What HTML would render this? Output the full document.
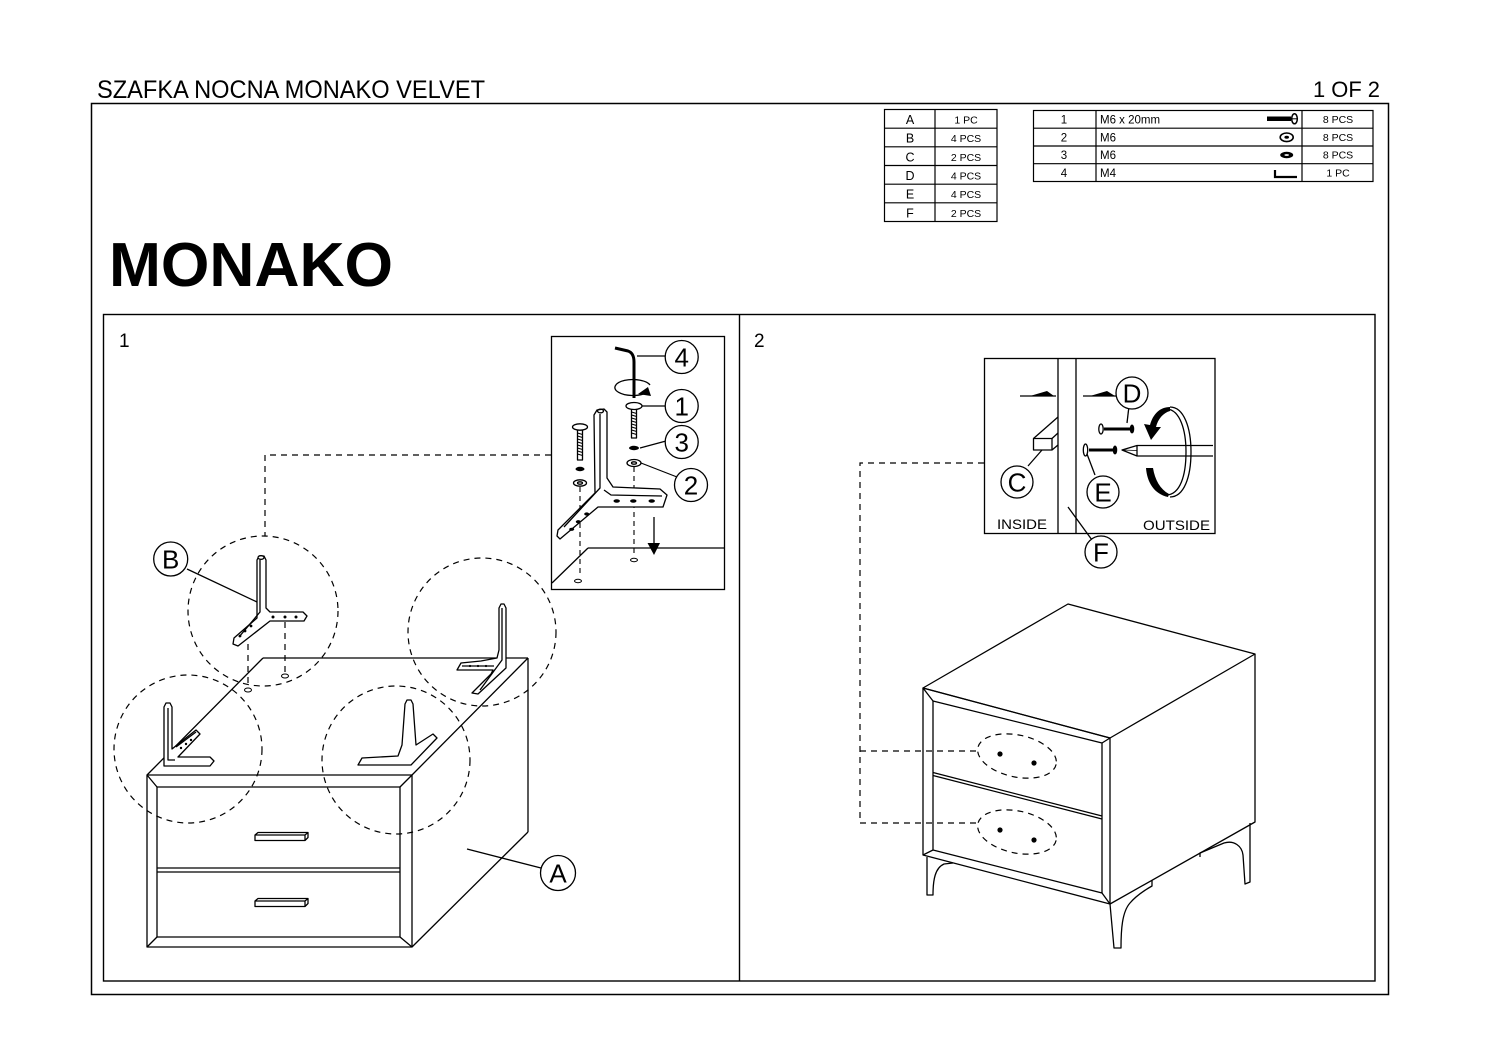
<!DOCTYPE html>
<html><head><meta charset="utf-8">
<style>html,body{margin:0;padding:0;background:#fff}svg{display:block}</style>
</head>
<body>
<svg width="1500" height="1060" viewBox="0 0 1500 1060" xmlns="http://www.w3.org/2000/svg" font-family="'Liberation Sans', Arial, sans-serif">
<rect width="1500" height="1060" fill="#fff"/>

<!-- Header -->
<text x="97" y="98" font-size="25" textLength="388" lengthAdjust="spacingAndGlyphs">SZAFKA NOCNA MONAKO VELVET</text>
<text x="1313" y="97" font-size="22" textLength="67" lengthAdjust="spacingAndGlyphs">1 OF 2</text>
<rect x="91.5" y="103.5" width="1297" height="891" fill="none" stroke="#000" stroke-width="1.5"/>
<text x="109" y="286" font-size="62" font-weight="bold" textLength="284" lengthAdjust="spacingAndGlyphs">MONAKO</text>

<!-- Table 1 -->
<g stroke="#000" stroke-width="1.2" fill="none">
  <rect x="884.5" y="109.5" width="112.5" height="112"/>
  <line x1="935" y1="109.5" x2="935" y2="221.5"/>
  <line x1="884.5" y1="128.2" x2="997" y2="128.2"/>
  <line x1="884.5" y1="146.8" x2="997" y2="146.8"/>
  <line x1="884.5" y1="165.5" x2="997" y2="165.5"/>
  <line x1="884.5" y1="184.2" x2="997" y2="184.2"/>
  <line x1="884.5" y1="202.8" x2="997" y2="202.8"/>
</g>
<g font-size="12.5" text-anchor="middle">
  <text x="910" y="124">A</text>
  <text x="910" y="142.7">B</text>
  <text x="910" y="161.4">C</text>
  <text x="910" y="180">D</text>
  <text x="910" y="198.7">E</text>
  <text x="910" y="217.4">F</text>
</g>
<g font-size="10.5" text-anchor="middle">
  <text x="966" y="123.5">1 PC</text>
  <text x="966" y="142.2">4 PCS</text>
  <text x="966" y="160.9">2 PCS</text>
  <text x="966" y="179.5">4 PCS</text>
  <text x="966" y="198.2">4 PCS</text>
  <text x="966" y="216.9">2 PCS</text>
</g>

<!-- Table 2 -->
<g stroke="#000" stroke-width="1.2" fill="none">
  <rect x="1033.5" y="110.5" width="339.5" height="71"/>
  <line x1="1096" y1="110.5" x2="1096" y2="181.5"/>
  <line x1="1302" y1="110.5" x2="1302" y2="181.5"/>
  <line x1="1033.5" y1="128.2" x2="1373" y2="128.2"/>
  <line x1="1033.5" y1="146" x2="1373" y2="146"/>
  <line x1="1033.5" y1="163.7" x2="1373" y2="163.7"/>
</g>
<g font-size="11.5">
  <text x="1064" y="123.5" text-anchor="middle">1</text>
  <text x="1064" y="141.3" text-anchor="middle">2</text>
  <text x="1064" y="159" text-anchor="middle">3</text>
  <text x="1064" y="176.8" text-anchor="middle">4</text>
  <text x="1100" y="123.5">M6 x 20mm</text>
  <text x="1100" y="141.3">M6</text>
  <text x="1100" y="159">M6</text>
  <text x="1100" y="176.8">M4</text>
</g>
<g font-size="10.5" text-anchor="middle">
  <text x="1338" y="123.2">8 PCS</text>
  <text x="1338" y="141">8 PCS</text>
  <text x="1338" y="158.7">8 PCS</text>
  <text x="1338" y="176.5">1 PC</text>
</g>
<!-- table icons -->
<rect x="1267" y="116.5" width="24" height="4.5" fill="#000"/>
<ellipse cx="1294.5" cy="118.8" rx="2.8" ry="5" fill="#fff" stroke="#000" stroke-width="1.5"/>
<line x1="1291" y1="118.8" x2="1297" y2="118.8" stroke="#000" stroke-width="1"/>
<ellipse cx="1286.7" cy="137.3" rx="6.5" ry="4.3" fill="none" stroke="#000" stroke-width="1.6"/>
<ellipse cx="1286.7" cy="137.3" rx="2.3" ry="1.5" fill="#000"/>
<ellipse cx="1286.7" cy="155" rx="6.5" ry="3.2" fill="#000"/>
<ellipse cx="1286.7" cy="155" rx="2.3" ry="0.9" fill="#fff"/>
<path d="M1275,170 L1275,177 L1297,177" fill="none" stroke="#000" stroke-width="2.2"/>

<!-- Panels frame -->
<rect x="103.5" y="314.5" width="1271.5" height="666.5" fill="none" stroke="#000" stroke-width="1.4"/>
<line x1="739.5" y1="314.5" x2="739.5" y2="981" stroke="#000" stroke-width="1.4"/>
<text x="119" y="347" font-size="19">1</text>
<text x="754" y="347" font-size="19">2</text>

<!-- ================= PANEL 1 ================= -->
<g stroke="#000" stroke-width="1.3" fill="none" stroke-linejoin="round">
  <!-- cabinet -->
  <line x1="263" y1="658" x2="528" y2="658"/>
  <line x1="263" y1="658" x2="147" y2="775"/>
  <line x1="528" y1="658" x2="412" y2="775"/>
  <line x1="528" y1="658" x2="528" y2="832"/>
  <line x1="528" y1="832" x2="412" y2="947"/>
  <rect x="147" y="775" width="265" height="172"/>
  <rect x="157" y="787" width="243" height="150"/>
  <line x1="147" y1="775" x2="157" y2="787"/>
  <line x1="412" y1="775" x2="400" y2="787"/>
  <line x1="147" y1="947" x2="157" y2="937"/>
  <line x1="412" y1="947" x2="400" y2="937"/>
  <line x1="157" y1="868" x2="400" y2="868"/>
  <line x1="157" y1="872" x2="400" y2="872"/>
  <!-- handles -->
  <path d="M255,835 L305,835 L305,840.5 L255,840.5 Z M255,835 L258,832.5 L308,832.5 L305,835 M308,832.5 L308,837.5 L305,840.5" fill="#fff"/>
  <path d="M255,901 L305,901 L305,906.5 L255,906.5 Z M255,901 L258,898.5 L308,898.5 L305,901 M308,898.5 L308,903.5 L305,906.5" fill="#fff"/>
  <!-- A label -->
  <line x1="467" y1="849" x2="541" y2="868"/>
  <circle cx="558" cy="873" r="17.5" fill="#fff"/>
</g>
<text x="558" y="882.5" font-size="26" text-anchor="middle">A</text>

<!-- dashed circles -->
<g stroke="#000" stroke-width="1.2" fill="none" stroke-dasharray="6 5">
  <circle cx="263" cy="611" r="75"/>
  <circle cx="188" cy="749" r="74"/>
  <circle cx="482" cy="632" r="74"/>
  <circle cx="396" cy="760" r="74"/>
  <polyline points="551,455 265,455 265,536"/>
  <line x1="248" y1="644" x2="248" y2="687"/>
  <line x1="285" y1="622" x2="285" y2="673"/>
</g>
<g stroke="#000" stroke-width="1" fill="none">
  <ellipse cx="248" cy="690" rx="3.5" ry="2"/>
  <ellipse cx="285" cy="676" rx="3.5" ry="2"/>
</g>

<!-- brackets on cabinet -->
<g stroke="#000" stroke-width="1.3" fill="#fff" stroke-linejoin="round">
  <!-- B bracket (floating) -->
  <path d="M257,560 L259,556 L264,556 L266,560 L266,608 L270,612 L303,612 L307,616 L304,621 L270,621 L238,646 L233,644 L234,638 L257,618 Z"/>
  <path d="M260,560 L260,612 L239,637" fill="none"/>
  <ellipse cx="261" cy="557.5" rx="3" ry="1.8"/>
  <!-- lower-left bracket -->
  <path d="M164,707 L166,703 L170,703 L172,707 L172,749 L196,730 L200,734 L178,757 L210,757 L214,761 L210,766 L164,766 Z"/>
  <path d="M168,708 L168,760 L175,760" fill="none"/>
  <path d="M176,747 L196,732" fill="none"/>
  <!-- top-right bracket -->
  <path d="M499,608 L501,604 L504,604 L506,608 L506,668 L478,694 L472,693 L491,674 L493,670 L457,670 L461,663 L481,661 L497,658 L499,650 Z"/>
  <path d="M502,608 L502,660 L480,690" fill="none"/>
  <line x1="462" y1="666" x2="494" y2="666"/>
  <!-- bottom-middle bracket -->
  <path d="M405,704 L407,700 L411,700 L413,704 L416,745 L433,734 L437,738 L411,765 L358,765 L362,758 L398,756 L402,745 Z"/>
</g>
<g fill="#000">
  <circle cx="273" cy="617" r="1.5"/><circle cx="285" cy="617" r="1.5"/><circle cx="296" cy="617" r="1.5"/>
  <circle cx="251" cy="626" r="1.4"/><circle cx="245" cy="631" r="1.4"/><circle cx="240" cy="636" r="1.4"/>
  <circle cx="181" cy="748" r="1.2"/><circle cx="186" cy="744" r="1.2"/><circle cx="191" cy="740" r="1.2"/>
  <circle cx="470" cy="666" r="1.1"/><circle cx="478" cy="666" r="1.1"/><circle cx="486" cy="666" r="1.1"/>
</g>
<!-- B label -->
<line x1="187" y1="569" x2="257" y2="602" stroke="#000" stroke-width="1.3"/>
<circle cx="170.7" cy="559" r="17" fill="#fff" stroke="#000" stroke-width="1.3"/>
<text x="170.7" y="568.5" font-size="26" text-anchor="middle">B</text>

<!-- Inset 1 -->
<rect x="551.5" y="336.5" width="173" height="253" fill="#fff" stroke="#000" stroke-width="1.3"/>
<g stroke="#000" stroke-width="1.3" fill="none" stroke-linejoin="round">
  <line x1="588" y1="548" x2="724" y2="548"/>
  <line x1="588" y1="548" x2="552" y2="583"/>
  <!-- allen key -->
  <path d="M615,348 L628,351 Q634,353 634,362 L634,398" stroke-width="3"/>
  <!-- rotation ellipse -->
  <path d="M646,393 A18,8 0 1 1 650,385"/>
  <!-- arrow down -->
  <line x1="654" y1="517" x2="654" y2="545"/>
  <!-- dashed drops -->
  <line x1="634" y1="467" x2="634" y2="557" stroke-dasharray="5 4" stroke-width="1.1"/>
  <line x1="580" y1="487" x2="580" y2="577" stroke-dasharray="5 4" stroke-width="1.1"/>
  <ellipse cx="634" cy="560" rx="3.5" ry="1.7" stroke-width="1"/>
  <ellipse cx="578" cy="581" rx="3.5" ry="1.7" stroke-width="1"/>
  <!-- screw right -->
  <rect x="631.5" y="409" width="5" height="29" fill="#fff"/>
  <ellipse cx="634" cy="406" rx="8" ry="3.5" fill="#fff"/>
  <ellipse cx="634" cy="463" rx="7" ry="3.5" fill="#fff"/>
  <ellipse cx="634" cy="463" rx="2.5" ry="1.2"/>
  <!-- screw left -->
  <rect x="577.5" y="430" width="5" height="30" fill="#fff"/>
  <ellipse cx="580" cy="427" rx="7.5" ry="3.2" fill="#fff"/>
  <ellipse cx="580" cy="483" rx="6.5" ry="3.2" fill="#fff"/>
  <ellipse cx="580" cy="483" rx="2.5" ry="1.2"/>
  <!-- bracket -->
  <path d="M594,415 L597,410 L604,409 L607,412 L607,478 L613,487 L660,489 L667,495 L663,507 L598,507 L560,539 L557,536 L558,530 L595,493 Z" fill="#fff"/>
  <path d="M600,414 L600,488 L564,527"/>
  <path d="M604,490 L611,495 L662,496"/>
  <ellipse cx="600.5" cy="411" rx="3" ry="1.8"/>
</g>
<g stroke="#000" stroke-width="1.1">
  <line x1="631.5" y1="412" x2="636.5" y2="413.5"/><line x1="631.5" y1="415" x2="636.5" y2="416.5"/>
  <line x1="631.5" y1="418" x2="636.5" y2="419.5"/><line x1="631.5" y1="421" x2="636.5" y2="422.5"/>
  <line x1="631.5" y1="424" x2="636.5" y2="425.5"/><line x1="631.5" y1="427" x2="636.5" y2="428.5"/>
  <line x1="631.5" y1="430" x2="636.5" y2="431.5"/><line x1="631.5" y1="433" x2="636.5" y2="434.5"/>
  <line x1="577.5" y1="433" x2="582.5" y2="434.5"/><line x1="577.5" y1="436" x2="582.5" y2="437.5"/>
  <line x1="577.5" y1="439" x2="582.5" y2="440.5"/><line x1="577.5" y1="442" x2="582.5" y2="443.5"/>
  <line x1="577.5" y1="445" x2="582.5" y2="446.5"/><line x1="577.5" y1="448" x2="582.5" y2="449.5"/>
  <line x1="577.5" y1="451" x2="582.5" y2="452.5"/><line x1="577.5" y1="454" x2="582.5" y2="455.5"/>
</g>
<g fill="#000">
  <polygon points="647.5,543 660,543 654,555"/>
  <polygon points="638,394 648,387 651,396"/>
  <ellipse cx="634" cy="448" rx="5" ry="2.2"/>
  <ellipse cx="580" cy="469" rx="4.5" ry="2.2"/>
  <ellipse cx="616.7" cy="501" rx="3.2" ry="1.7"/>
  <ellipse cx="633.3" cy="501" rx="3.2" ry="1.7"/>
  <ellipse cx="651.7" cy="501" rx="3.2" ry="1.7"/>
  <ellipse cx="586.7" cy="514" rx="2.5" ry="1.6"/>
  <ellipse cx="578.3" cy="521.7" rx="2.5" ry="1.6"/>
  <ellipse cx="571.7" cy="529.3" rx="2.5" ry="1.6"/>
</g>
<g stroke="#000" stroke-width="1.2" fill="none">
  <line x1="637" y1="356" x2="665" y2="356"/>
  <line x1="642" y1="406" x2="665" y2="406"/>
  <line x1="640" y1="448" x2="666" y2="441"/>
  <line x1="641" y1="463" x2="677" y2="477"/>
</g>
<g stroke="#000" stroke-width="1.3" fill="#fff">
  <circle cx="681.7" cy="357" r="16.5"/>
  <circle cx="681.7" cy="406" r="16.5"/>
  <circle cx="681.7" cy="442" r="16.5"/>
  <circle cx="691" cy="485" r="16.5"/>
</g>
<g font-size="26" text-anchor="middle">
  <text x="681.7" y="366.5">4</text>
  <text x="681.7" y="415.5">1</text>
  <text x="681.7" y="451.5">3</text>
  <text x="691" y="494.5">2</text>
</g>

<!-- ================= PANEL 2 ================= -->
<!-- dashed connectors -->
<g stroke="#000" stroke-width="1.2" fill="none" stroke-dasharray="6 5">
  <polyline points="984,463 860,463 860,823 977,823"/>
  <line x1="860" y1="751" x2="977" y2="751"/>
  <ellipse cx="1017" cy="756" rx="40" ry="21" transform="rotate(12 1017 756)"/>
  <ellipse cx="1017" cy="832" rx="40" ry="21" transform="rotate(12 1017 832)"/>
</g>
<!-- cabinet -->
<g stroke="#000" stroke-width="1.3" fill="none" stroke-linejoin="round">
  <polygon points="1068,604 1255,654 1110,738 923,688"/>
  <polygon points="923,688 1110,738 1110,904 923,855"/>
  <polygon points="933,701 1102,743 1102,893 933,850"/>
  <line x1="923" y1="688" x2="933" y2="701"/>
  <line x1="1110" y1="738" x2="1102" y2="743"/>
  <line x1="923" y1="855" x2="933" y2="850"/>
  <line x1="1110" y1="904" x2="1102" y2="893"/>
  <polyline points="1255,654 1255,822 1110,904"/>
  <line x1="933" y1="772.5" x2="1102" y2="816"/>
  <line x1="933" y1="775.5" x2="1102" y2="819"/>
  <!-- legs -->
  <path d="M927,857 L927,895 L933,895 C933,880 935,868 944,864 L953,863"/>
  <path d="M1110,904 L1114,948 L1121,948 C1121,930 1122,912 1130,903 C1136,896 1145,890 1152,886 L1152,880"/>
  <path d="M1250,823 L1250,882 L1245,884 L1243,855 C1242,846 1234,840 1224,843 L1200,853 L1200,857"/>
</g>
<g fill="#000">
  <circle cx="1000" cy="754" r="2.6"/>
  <circle cx="1034" cy="763" r="2.6"/>
  <circle cx="1000" cy="830" r="2.6"/>
  <circle cx="1034" cy="840" r="2.6"/>
</g>

<!-- Inset 2 -->
<rect x="984.5" y="358.5" width="230.5" height="175" fill="#fff" stroke="#000" stroke-width="1.3"/>
<g stroke="#000" stroke-width="1.3" fill="none" stroke-linejoin="round">
  <line x1="1058" y1="358.5" x2="1058" y2="533.5"/>
  <line x1="1076" y1="358.5" x2="1076" y2="533.5"/>
  <line x1="1020" y1="396" x2="1056" y2="396"/>
  <line x1="1083" y1="396" x2="1116" y2="396"/>
  <!-- dowel C -->
  <rect x="1033.5" y="438.5" width="18.5" height="11.5" fill="#fff"/>
  <line x1="1033.5" y1="438.5" x2="1058" y2="417"/>
  <line x1="1052" y1="438.5" x2="1058" y2="433"/>
  <line x1="1052" y1="450" x2="1058" y2="445"/>
  <line x1="1028" y1="466" x2="1042" y2="450"/>
  <!-- screws -->
  <line x1="1104" y1="429" x2="1131" y2="429" stroke-width="3"/>
  <ellipse cx="1101" cy="429" rx="2.2" ry="5" fill="#fff" stroke-width="1.3"/>
  <ellipse cx="1132" cy="429" rx="1.6" ry="3.8" fill="#000"/>
  <line x1="1127" y1="423" x2="1129" y2="406"/>
  <line x1="1089" y1="450" x2="1113" y2="450" stroke-width="3"/>
  <ellipse cx="1085.5" cy="450" rx="2.2" ry="6" fill="#fff" stroke-width="1.3"/>
  <ellipse cx="1115" cy="450" rx="1.6" ry="3.8" fill="#000"/>
  <line x1="1095" y1="475" x2="1087" y2="454"/>
  <!-- screwdriver -->
  <path d="M1213,445.5 L1137,445.5 L1122,450 L1137,456 L1213,456"/>
  <line x1="1137" y1="445.5" x2="1137" y2="456"/>
  <line x1="1122" y1="450" x2="1137" y2="450.5" stroke-width="0.8"/>
  <!-- ring -->
  <path d="M1170,407 C1184,407 1191,428 1191,452 C1191,477 1184,497 1170,497"/>
  <path d="M1167,409 C1180,410 1186,430 1186,452 C1186,476 1180,494 1167,495"/>
  <!-- F leader -->
  <line x1="1068" y1="507" x2="1092" y2="540"/>
</g>
<g fill="#000">
  <polygon points="1030,396 1047,391 1054,396"/>
  <polygon points="1090,396 1107,391 1115,396"/>
  <path d="M1170,407 C1160,407 1153,414 1150,425 L1144,424 L1151,440 L1161,427 L1156,427 C1158,419 1163,413 1170,411 Z"/>
  <path d="M1146,468 C1147,482 1154,494 1168,497 L1169,494 C1160,489 1155,480 1153,468 Z"/>
</g>
<g stroke="#000" stroke-width="1.3" fill="#fff">
  <circle cx="1017" cy="482" r="16"/>
  <circle cx="1132" cy="393" r="16"/>
  <circle cx="1103" cy="492" r="16"/>
  <circle cx="1101" cy="552" r="16"/>
</g>
<g font-size="26" text-anchor="middle">
  <text x="1017" y="491.5">C</text>
  <text x="1132" y="402.5">D</text>
  <text x="1103" y="501.5">E</text>
  <text x="1101" y="561.5">F</text>
</g>
<text x="997" y="529" font-size="14" textLength="50" lengthAdjust="spacingAndGlyphs">INSIDE</text>
<text x="1143" y="530" font-size="14" textLength="67" lengthAdjust="spacingAndGlyphs">OUTSIDE</text>

</svg>
</body>
</html>
